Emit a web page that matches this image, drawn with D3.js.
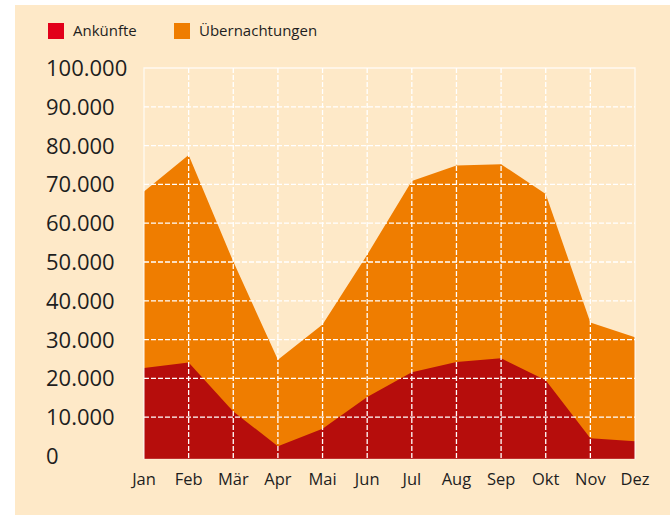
<!DOCTYPE html>
<html>
<head>
<meta charset="utf-8">
<script src="https://cdn.jsdelivr.net/npm/d3@7"></script>
<style>
    html, body { margin: 0; padding: 0; background: #ffffff; }
    svg { display: block; }
    text { font-family: "Open Sans", sans-serif; fill: #1e1e1e; }
</style>
</head>
<body>
<div id="chart"></div>
<script>
var months = ["Jan", "Feb", "Mär", "Apr", "Mai", "Jun", "Jul", "Aug", "Sep", "Okt", "Nov", "Dez"];
var ankuenfte = [22700, 24100, 11500, 2500, 7000, 15200, 21600, 24200, 25200, 19500, 4600, 3800];
var uebernachtungen = [68200, 77600, 50100, 24800, 33900, 51900, 70900, 74900, 75200, 67500, 34400, 30600];
var yTicks = [0, 10000, 20000, 30000, 40000, 50000, 60000, 70000, 80000, 90000, 100000];
var seriesNames = ["Ankünfte", "Übernachtungen"];
var seriesColors = ["#e2001a", "#ef7d00"];

var svgWidth = 670;
var svgHeight = 515;

var margin = {
    top: 68,
    right: 35,
    bottom: 59,
    left: 144
};

var width = svgWidth - margin.left - margin.right;
var height = svgHeight - margin.top - margin.bottom;

var svg = d3.select("#chart")
    .append("svg")
    .attr("width", svgWidth)
    .attr("height", svgHeight);

// beige panel
svg.append("rect")
    .attr("x", 15)
    .attr("y", 5)
    .attr("width", svgWidth - 15)
    .attr("height", svgHeight - 5)
    .attr("fill", "#fee9c8");

var chartGroup = svg.append("g")
    .attr("transform", `translate(${margin.left}, ${margin.top})`);

var xScale = d3.scalePoint()
    .domain(months)
    .range([0, width]);

var yScale = d3.scaleLinear()
    .domain([0, 100000])
    .range([height, 0]);

// areas (baseline hangs a little below zero like the original)
var baseY = yScale(0) + 3;

function makeArea(values) {
    return d3.area()
        .x((d, i) => xScale(months[i]))
        .y0(baseY)
        .y1(d => yScale(d))(values);
}

chartGroup.append("path")
    .attr("d", makeArea(uebernachtungen))
    .attr("fill", "#ef7d00");

chartGroup.append("path")
    .attr("d", makeArea(ankuenfte))
    .attr("fill", "#b60d0c");

// dashed grid
chartGroup.append("g")
    .selectAll("line")
    .data(yTicks.filter(d => d > 0 && d < 100000))
    .enter()
    .append("line")
    .attr("x1", 0)
    .attr("x2", width)
    .attr("y1", d => yScale(d))
    .attr("y2", d => yScale(d))
    .attr("stroke", "#ffffff")
    .attr("stroke-width", 1.3)
    .attr("stroke-dasharray", "5,2");

chartGroup.append("g")
    .selectAll("line")
    .data(months.slice(1, -1))
    .enter()
    .append("line")
    .attr("x1", d => xScale(d))
    .attr("x2", d => xScale(d))
    .attr("y1", 0)
    .attr("y2", baseY)
    .attr("stroke", "#ffffff")
    .attr("stroke-width", 1.3)
    .attr("stroke-dasharray", "5,2");

// frame: top, left, right
chartGroup.append("path")
    .attr("d", `M0,${baseY}V0H${width}V${baseY}`)
    .attr("fill", "none")
    .attr("stroke", "#ffffff")
    .attr("stroke-opacity", 0.75)
    .attr("stroke-width", 1.3);

chartGroup.append("line")
    .attr("x1", 0)
    .attr("x2", width)
    .attr("y1", baseY)
    .attr("y2", baseY)
    .attr("stroke", "#ffffff")
    .attr("stroke-opacity", 0.3);

// y labels, left aligned
var fmt = d3.formatLocale({ decimal: ",", thousands: ".", grouping: [3], currency: ["", "€"] }).format(",d");

svg.append("g")
    .selectAll("text")
    .data(yTicks)
    .enter()
    .append("text")
    .attr("x", 46)
    .attr("y", d => margin.top + yScale(d))
    .attr("dy", "0.36em")
    .attr("font-size", 22)
    .text(d => fmt(d));

// x labels
svg.append("g")
    .selectAll("text")
    .data(months)
    .enter()
    .append("text")
    .attr("x", d => margin.left + xScale(d))
    .attr("y", 485)
    .attr("text-anchor", "middle")
    .attr("font-size", 16.5)
    .text(d => d);

// legend
var legendX = [48, 174];
seriesNames.forEach(function (name, i) {
    svg.append("rect")
        .attr("x", legendX[i])
        .attr("y", 23)
        .attr("width", 16)
        .attr("height", 16)
        .attr("fill", seriesColors[i]);
    svg.append("text")
        .attr("x", legendX[i] + 25)
        .attr("y", 36)
        .attr("font-size", 15)
        .text(name);
});
</script>
</body>
</html>
